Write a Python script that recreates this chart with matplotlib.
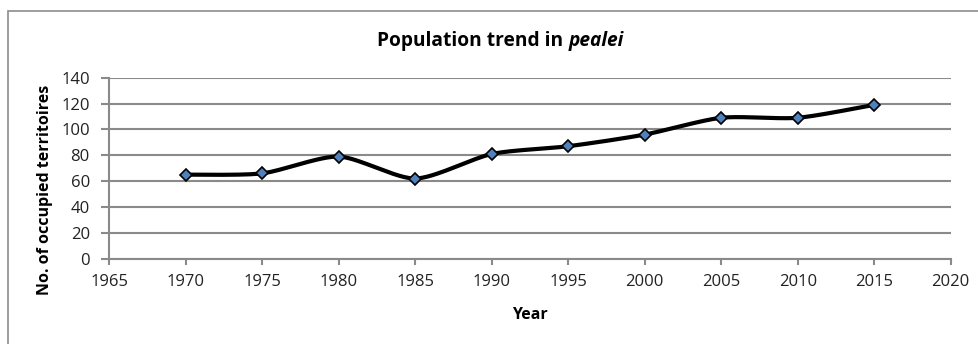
import numpy as np
import matplotlib
matplotlib.use("Agg")
import matplotlib.pyplot as plt
from matplotlib.patches import Rectangle

years = [1970, 1975, 1980, 1985, 1990, 1995, 2000, 2005, 2010, 2015]
territories = [65, 66, 79, 62, 81, 87, 96, 109, 109, 119]
x_ticks = [1965, 1970, 1975, 1980, 1985, 1990, 1995, 2000, 2005, 2010, 2015, 2020]
y_ticks = [0, 20, 40, 60, 80, 100, 120, 140]

FONT = "Open Sans"
W, H = 979, 344


def smooth_curve(x, y, n=30, k=8.0):
    """Bezier smoothing through every point (Catmull-Rom tangents scaled by 1/k)."""
    x = np.asarray(x, float)
    y = np.asarray(y, float)
    px = np.concatenate([[x[0]], x, [x[-1]]])
    py = np.concatenate([[y[0]], y, [y[-1]]])
    xs, ys = [], []
    t = np.linspace(0, 1, n)
    for i in range(1, len(px) - 2):
        p0 = np.array([px[i], py[i]])
        p3 = np.array([px[i + 1], py[i + 1]])
        p1 = p0 + (np.array([px[i + 1], py[i + 1]]) - np.array([px[i - 1], py[i - 1]])) / k
        p2 = p3 - (np.array([px[i + 2], py[i + 2]]) - np.array([px[i], py[i]])) / k
        b = ((1 - t) ** 3)[:, None] * p0 + (3 * (1 - t) ** 2 * t)[:, None] * p1 \
            + (3 * (1 - t) * t ** 2)[:, None] * p2 + (t ** 3)[:, None] * p3
        xs.append(b[:, 0])
        ys.append(b[:, 1])
    return np.concatenate(xs), np.concatenate(ys)


fig = plt.figure(figsize=(W / 100, H / 100), dpi=100)
fig.patch.set_facecolor("white")

# chart frame
fig.patches.append(Rectangle((8 / W, -0.1), 1.2, 1 - 11 / H + 0.1,
                             transform=fig.transFigure, fill=False,
                             edgecolor="#8c8c8c", linewidth=1.2))

ax_left, ax_right, ax_top, ax_bottom = 109.3, 950.7, 77.7, 258.7
ax = fig.add_axes([ax_left / W, 1 - ax_bottom / H, (ax_right - ax_left) / W,
                   (ax_bottom - ax_top) / H])
ax.set_xlim(1965, 2020)
ax.set_ylim(0, 140)
ax.set_xticks(x_ticks)
ax.set_yticks(y_ticks)
ax.yaxis.grid(True, color="#8a8a8a", linewidth=1.5)
ax.set_axisbelow(True)
for s in ("top", "right"):
    ax.spines[s].set_visible(False)
for s in ("left", "bottom"):
    ax.spines[s].set_color("#8a8a8a")
    ax.spines[s].set_linewidth(1.5)
ax.tick_params(axis="both", direction="out", width=1.5, color="#8a8a8a",
               labelsize=12, labelcolor="#222222")
ax.tick_params(axis="x", length=4, pad=7)
ax.tick_params(axis="y", length=6, pad=8)
for lab in ax.get_xticklabels() + ax.get_yticklabels():
    lab.set_fontfamily(FONT)

sx, sy = smooth_curve(years, territories)
ax.plot(sx, sy, color="black", linewidth=3.0, solid_capstyle="round", zorder=3)
ax.plot(years, territories, linestyle="none", marker="D", markersize=6.5,
        markerfacecolor="#4f81bd", markeredgecolor="black", markeredgewidth=1.2, zorder=4)

ax.set_xlabel("Year", fontsize=11.5, fontweight="bold", fontfamily=FONT, labelpad=12)
ax.set_ylabel("No. of occupied territoires", fontsize=11.5, fontweight="bold",
              fontfamily=FONT)
# the axis title sits centred on the plot area including the year labels
ax.yaxis.set_label_coords((53 - ax_left) / (ax_right - ax_left),
                          (ax_bottom - 190) / (ax_bottom - ax_top))

# title: upright bold text followed by the italic species name
fig.canvas.draw()
renderer = fig.canvas.get_renderer()
t1 = fig.text(0, 1 - 41 / H, "Population trend in ", fontsize=13.8, fontweight="bold",
              fontfamily=FONT, va="center", ha="left")
t2 = fig.text(0, 1 - 41 / H, "pealei", fontsize=13.8, fontweight="bold", fontstyle="italic",
              fontfamily=FONT, va="center", ha="left")
w1 = t1.get_window_extent(renderer).width
w2 = t2.get_window_extent(renderer).width
x0 = 500.5 - (w1 + w2) / 2
t1.set_x(x0 / W)
t2.set_x((x0 + w1) / W)

fig.savefig("out.png", dpi=100)
